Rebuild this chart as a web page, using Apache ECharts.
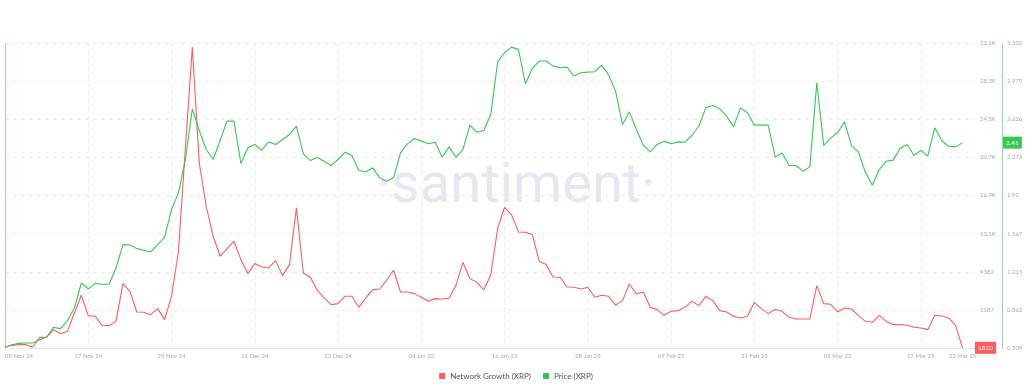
<!DOCTYPE html>
<html>
<head>
<meta charset="utf-8">
<script src="https://cdn.jsdelivr.net/npm/echarts@6/dist/echarts.min.js"></script>
<style>
  html, body { margin: 0; padding: 0; background: #ffffff; }
  #chart { width: 1032px; height: 391px; }
</style>
</head>
<body>
<div id="chart"></div>
<script>
// ---- Data (daily, 05 Nov 24 .. 23 Mar 25) ----
const seriesNames = ['Network Growth (XRP)', 'Price (XRP)'];

const networkGrowth = [
  1900, 2058, 2124, 2124, 1892, 2854, 2854, 3618, 3220, 3452,
  5278, 7038, 5012, 4946, 4050, 4016, 4448, 8200, 7436, 5378,
  5344, 5112, 5710, 4614, 6938, 11420, 21712, 31738, 20218, 15902,
  12914, 10922, 11686, 12416, 10590, 9196, 10192, 9860, 9760, 10490,
  8996, 10092, 15736, 9262, 8830, 7536, 6772, 6108, 6208, 6938,
  6938, 5842, 6772, 7602, 7668, 8532, 9528, 7370, 7370, 7204,
  6838, 6440, 6706, 6672, 6739, 8034, 10324, 8698, 8332, 7569,
  9030, 13678, 15802, 15072, 13346, 13312, 13080, 10424, 10092, 8864,
  8830, 7868, 7834, 7668, 7834, 6838, 7038, 6938, 6042, 6506,
  8166, 7170, 7370, 5842, 5610, 5046, 5444, 5510, 5842, 6440,
  6008, 6938, 6506, 5510, 5378, 4946, 4780, 4946, 6340, 5710,
  5212, 5643, 5444, 4846, 4680, 4680, 4680, 8000, 6208, 6141,
  5378, 5776, 5676, 5012, 4448, 4348, 5046, 4448, 4116, 4116,
  4050, 3850, 3784, 3618, 5046, 4979, 4780, 4050, 1810
];

const price = [
  0.515, 0.540, 0.552, 0.555, 0.555, 0.586, 0.611, 0.700, 0.688, 0.762,
  0.879, 1.111, 1.056, 1.108, 1.099, 1.099, 1.250, 1.466, 1.463, 1.429,
  1.414, 1.398, 1.466, 1.534, 1.791, 1.945, 2.254, 2.723, 2.522, 2.346,
  2.254, 2.430, 2.609, 2.609, 2.217, 2.362, 2.393, 2.340, 2.417, 2.393,
  2.439, 2.485, 2.562, 2.306, 2.244, 2.275, 2.238, 2.198, 2.254, 2.322,
  2.291, 2.152, 2.139, 2.177, 2.084, 2.053, 2.084, 2.315, 2.399, 2.448,
  2.424, 2.399, 2.414, 2.275, 2.371, 2.275, 2.346, 2.572, 2.507, 2.522,
  2.665, 3.158, 3.242, 3.294, 3.273, 2.955, 3.097, 3.165, 3.165, 3.118,
  3.103, 3.109, 3.026, 3.057, 3.063, 3.066, 3.128, 3.035, 2.887, 2.578,
  2.695, 2.532, 2.386, 2.325, 2.393, 2.424, 2.399, 2.417, 2.414, 2.476,
  2.562, 2.732, 2.754, 2.723, 2.655, 2.556, 2.732, 2.686, 2.572, 2.572,
  2.572, 2.278, 2.315, 2.198, 2.198, 2.146, 2.186, 2.964, 2.383, 2.454,
  2.501, 2.603, 2.383, 2.322, 2.136, 2.016, 2.161, 2.238, 2.248, 2.356,
  2.393, 2.294, 2.337, 2.285, 2.547, 2.430, 2.377, 2.371, 2.41
];

// x ticks (day offset from 05 Nov 24) and their labels
const xTickDays = [0, 12, 24, 36, 48, 60, 72, 84, 96, 108, 120, 132, 138];
const xTickLabels = ['05 Nov 24', '17 Nov 24', '29 Nov 24', '11 Dec 24', '23 Dec 24', '04 Jan 25',
  '16 Jan 25', '28 Jan 25', '09 Feb 25', '21 Feb 25', '05 Mar 25', '17 Mar 25', '23 Mar 25'];
const xGridDays = [0, 12, 24, 36, 48, 60, 72, 84, 96, 108, 120, 132];
const xAxisMax = 139.8;

// right axes ticks / labels
const networkTicks = [1792, 5587, 9382, 13177, 16972, 20767, 24562, 28357, 32152];
const networkTickLabels = ['', '5587', '9382', '13.1K', '16.9K', '20.7K', '24.5K', '28.3K', '32.1K'];
const priceTicks = [0.5094, 0.8623, 1.2151, 1.5680, 1.9208, 2.2737, 2.6265, 2.9794, 3.3322];
const priceTickLabels = ['0.509', '0.862', '1.215', '1.567', '1.92', '2.273', '2.626', '2.979', '3.332'];

// ---- Chart ----
const RED = '#ff5c5c';
const GREEN = '#34c955';
const LABEL_GRAY = '#a3a9b8';
const FONT = 'Lato, "Open Sans", sans-serif';

function lookup(ticks, labels, v) {
  let best = 0, bd = Infinity;
  ticks.forEach((t, i) => { const d = Math.abs(t - v); if (d < bd) { bd = d; best = i; } });
  return bd < 1e-3 * Math.max(1, Math.abs(v)) ? labels[best] : '';
}

const chart = echarts.init(document.getElementById('chart'), null, { renderer: 'canvas' });

const option = {
  animation: false,
  backgroundColor: '#ffffff',
  textStyle: { fontFamily: FONT },
  grid: { left: 5, right: 57, top: 43, bottom: 43, containLabel: false },
  legend: {
    data: seriesNames,
    left: 'center',
    top: 367,
    icon: 'rect',
    itemWidth: 6,
    itemHeight: 6,
    itemGap: 12,
    textStyle: { fontSize: 8, color: '#4e5360', fontFamily: FONT }
  },
  graphic: [{
    type: 'text',
    left: 'center',
    top: 160,
    z: 0,
    silent: true,
    style: {
      text: '·santiment·',
      fontSize: 56,
      fontWeight: 400,
      fontFamily: 'Roboto, sans-serif',
      fill: '#e5e8f1'
    }
  }],
  xAxis: {
    type: 'value',
    min: 0,
    max: xAxisMax,
    axisLine: { show: true, lineStyle: { color: '#e8e9ee', width: 1 } },
    axisTick: { show: false, customValues: xGridDays },
    axisLabel: {
      customValues: xTickDays,
      color: LABEL_GRAY,
      fontSize: 6,
      margin: 5,
      alignMinLabel: 'left',
      formatter: v => lookup(xTickDays, xTickLabels, v)
    },
    splitLine: { show: true, lineStyle: { color: '#ececef', type: [4, 4], width: 1 } }
  },
  yAxis: [
    {
      type: 'value',
      position: 'right',
      min: networkTicks[0],
      max: networkTicks[networkTicks.length - 1],
      axisLine: { show: true, lineStyle: { color: '#ffabab', width: 1 } },
      axisTick: { show: false, customValues: networkTicks },
      axisLabel: {
        customValues: networkTicks,
        color: LABEL_GRAY,
        fontSize: 6,
        margin: 5,
        formatter: v => lookup(networkTicks, networkTickLabels, v)
      },
      splitLine: { show: true, lineStyle: { color: '#ececef', type: [4, 4], width: 1 } },
      axisPointer: {
        show: true,
        type: 'none',
        value: networkGrowth[networkGrowth.length - 1],
        status: 'show',
        triggerTooltip: false,
        triggerOn: 'none',
        label: {
          show: true,
          formatter: p => String(Math.round(p.value)),
          backgroundColor: RED,
          color: '#ffffff',
          fontSize: 6.5,
          padding: [3, 3, 2, 3],
          borderRadius: 0,
          margin: 0
        }
      }
    },
    {
      type: 'value',
      position: 'right',
      offset: 27,
      min: priceTicks[0],
      max: priceTicks[priceTicks.length - 1],
      axisLine: { show: true, lineStyle: { color: '#8fe29f', width: 1 } },
      axisTick: { show: false, customValues: priceTicks },
      axisLabel: {
        customValues: priceTicks,
        color: LABEL_GRAY,
        fontSize: 6,
        margin: 5,
        formatter: v => lookup(priceTicks, priceTickLabels, v)
      },
      splitLine: { show: false },
      axisPointer: {
        show: true,
        type: 'none',
        value: price[price.length - 1],
        status: 'show',
        triggerTooltip: false,
        triggerOn: 'none',
        label: {
          show: true,
          formatter: p => Number(p.value).toFixed(2),
          backgroundColor: GREEN,
          color: '#ffffff',
          fontSize: 6.5,
          padding: [3, 3, 2, 3],
          borderRadius: 0,
          margin: 1
        }
      }
    }
  ],
  series: [
    {
      name: seriesNames[0],
      type: 'line',
      yAxisIndex: 0,
      data: networkGrowth.map((v, i) => [i, v]),
      showSymbol: false,
      symbol: 'none',
      lineStyle: { color: RED, width: 1.1 },
      itemStyle: { color: RED },
      z: 3
    },
    {
      name: seriesNames[1],
      type: 'line',
      yAxisIndex: 1,
      data: price.map((v, i) => [i, v]),
      showSymbol: false,
      symbol: 'none',
      lineStyle: { color: GREEN, width: 1.1 },
      itemStyle: { color: GREEN },
      z: 4
    }
  ]
};

chart.setOption(option);
</script>
</body>
</html>
